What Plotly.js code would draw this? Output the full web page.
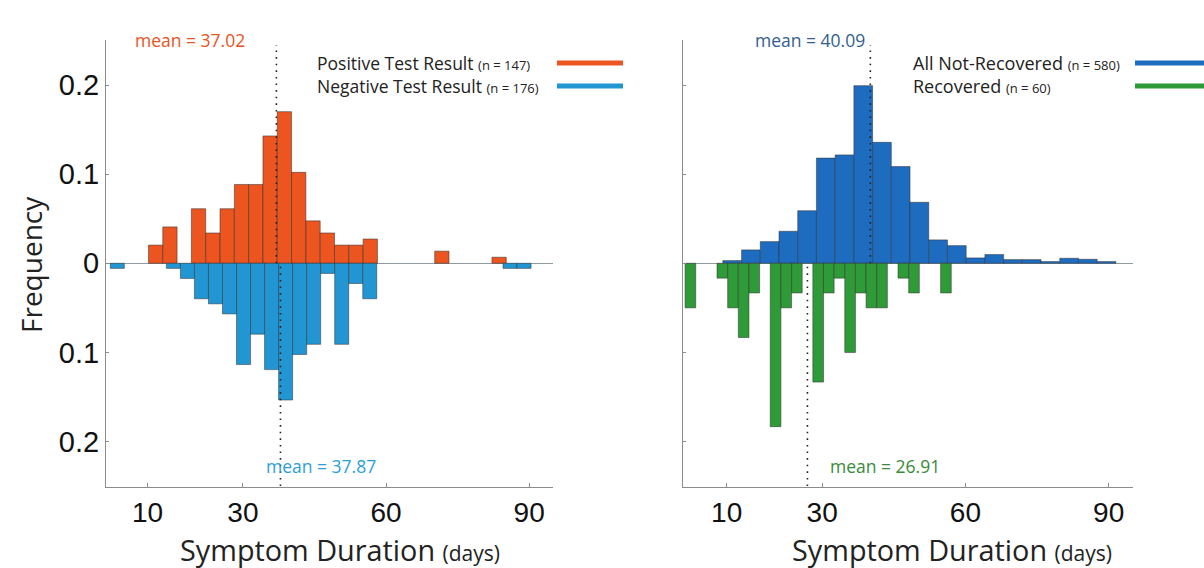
<!DOCTYPE html>
<html>
<head>
<meta charset="utf-8">
<script src="https://cdn.plot.ly/plotly-3.0.1.min.js"></script>
<style>html,body{margin:0;padding:0;background:#fff;}#chart{width:1204px;height:568px;}</style>
</head>
<body>
<div id="chart"></div>
<script>
// ---------- data (frequencies) ----------
// Left panel: positive test result (upwards, orange), bin width 3.0 days
const posCenters = [11.7, 14.7, 20.7, 23.7, 26.7, 29.7, 32.7, 35.7, 38.7, 41.7, 44.7, 47.7, 50.7, 53.7, 56.7, 71.7, 83.7];
const posFreq    = [0.0204, 0.0408, 0.0612, 0.034, 0.0612, 0.0884, 0.0884, 0.1429, 0.1701, 0.102, 0.0476, 0.034, 0.0204, 0.0204, 0.0272, 0.0136, 0.0068];
const posBinWidth = 3.0;
// Left panel: negative test result (downwards, light blue), bin width 2.94 days
const negCenters = [3.67, 15.43, 18.37, 21.31, 24.25, 27.19, 30.13, 33.07, 36.01, 38.95, 41.89, 44.83, 47.77, 50.71, 53.65, 56.59, 85.99, 88.93];
const negFreq    = [0.0057, 0.0057, 0.017, 0.0398, 0.0455, 0.0568, 0.1136, 0.0795, 0.1193, 0.1534, 0.1023, 0.0909, 0.0114, 0.0909, 0.0227, 0.0398, 0.0057, 0.0057];
const negBinWidth = 2.94;
// Right panel: all not-recovered (upwards, blue), bin width 3.92 days
const notRecCenters = [11.16, 15.08, 19.0, 22.92, 26.84, 30.76, 34.68, 38.6, 42.52, 46.44, 50.36, 54.28, 58.2, 62.12, 66.04, 69.96, 73.88, 77.8, 81.72, 85.64, 89.56];
const notRecFreq    = [0.003, 0.015, 0.0243, 0.0359, 0.059, 0.118, 0.1216, 0.1993, 0.1357, 0.1085, 0.0684, 0.0262, 0.0198, 0.006, 0.0098, 0.0041, 0.0041, 0.0019, 0.0056, 0.0045, 0.0019];
const notRecBinWidth = 3.92;
// Right panel: recovered (downwards, green), bin width 2.23 days
const recCenters = [2.40, 9.09, 11.32, 13.55, 15.78, 20.24, 22.47, 24.70, 29.16, 31.39, 33.62, 35.85, 38.08, 40.31, 42.54, 47.0, 49.23, 55.92];
const recFreq    = [0.05, 0.0167, 0.05, 0.0833, 0.0333, 0.1833, 0.05, 0.0333, 0.1333, 0.0333, 0.0167, 0.1, 0.0333, 0.05, 0.05, 0.0167, 0.0333, 0.0333];
const recBinWidth = 2.23;

const means = {pos: 37.02, neg: 37.87, notRec: 40.09, rec: 26.91};
const xTickVals = [10, 30, 60, 90];
const yTickVals = [-0.2, -0.1, 0, 0.1, 0.2];
const yTickText = ['0.2', '0.1', '0', '0.1', '0.2'];

// ---------- styling ----------
const C_POS = '#ec5420', C_NEG = '#2196d3', C_NR = '#1e6cc0', C_REC = '#2e9a38';
const EDGE = {color: 'rgba(50,50,50,0.75)', width: 0.7};
const H = 568, W = 1204;
const px = v => v / W, py = v => (H - v) / H;

function barTrace(xs, ys, w, color, sign, xa, ya, name) {
  return {type: 'bar', x: xs, y: ys.map(v => sign * v), width: xs.map(() => w),
          marker: {color: color, line: EDGE}, xaxis: xa, yaxis: ya, name: name,
          showlegend: false, hoverinfo: 'x+y'};
}

const traces = [
  barTrace(posCenters, posFreq, posBinWidth, C_POS, 1, 'x', 'y', 'Positive Test Result'),
  barTrace(negCenters, negFreq, negBinWidth, C_NEG, -1, 'x', 'y', 'Negative Test Result'),
  barTrace(notRecCenters, notRecFreq, notRecBinWidth, C_NR, 1, 'x2', 'y2', 'All Not-Recovered'),
  barTrace(recCenters, recFreq, recBinWidth, C_REC, -1, 'x2', 'y2', 'Recovered')
];

const tickFont = {family: 'Liberation Sans, Arial, sans-serif', size: 29, color: '#111'};
const xTickFont = {family: 'Liberation Sans, Arial, sans-serif', size: 28, color: '#111'};
const AX = '#8c8c8c';
const DOT = {color: '#222', width: 1.6, dash: '1.6px,5px'};

function xAxis(domain, range) {
  return {domain: domain, range: range, tickvals: xTickVals, ticks: 'inside', ticklen: 4, tickcolor: AX,
          showline: true, linecolor: AX, linewidth: 1, showgrid: false, zeroline: false,
          tickfont: xTickFont, fixedrange: true};
}
function yAxis(domain, anchor, showLabels) {
  return {domain: domain, range: [-0.251, 0.2505], anchor: anchor, tickvals: yTickVals, ticktext: yTickText,
          showticklabels: showLabels, ticks: 'inside', ticklen: 3, tickcolor: AX,
          showline: true, linecolor: AX, linewidth: 1, showgrid: false,
          zeroline: true, zerolinecolor: '#8f9ba0', zerolinewidth: 1,
          tickfont: tickFont, fixedrange: true};
}

const yDom = [py(487), py(40)];
const layout = {
  width: W, height: H, margin: {l: 0, r: 0, t: 0, b: 0},
  paper_bgcolor: '#fff', plot_bgcolor: 'rgba(0,0,0,0)',
  barmode: 'overlay', bargap: 0, showlegend: false,
  xaxis: Object.assign(xAxis([px(106), px(553)], [1.3, 95.0]), {anchor: 'y'}),
  yaxis: yAxis(yDom, 'x', true),
  xaxis2: Object.assign(xAxis([px(683), px(1133)], [0.85, 95.1]), {anchor: 'y2'}),
  yaxis2: yAxis(yDom, 'x2', false),
  shapes: [
    // mean lines
    {type: 'line', xref: 'x', yref: 'y', x0: means.pos, x1: means.pos, y0: 0, y1: 0.245, line: DOT},
    {type: 'line', xref: 'x', yref: 'y', x0: means.neg, x1: means.neg, y0: -0.25, y1: 0, line: DOT},
    {type: 'line', xref: 'x2', yref: 'y2', x0: means.notRec, x1: means.notRec, y0: 0, y1: 0.245, line: DOT},
    {type: 'line', xref: 'x2', yref: 'y2', x0: means.rec, x1: means.rec, y0: -0.25, y1: 0, line: DOT},
    // legend swatches
    {type: 'line', xref: 'paper', yref: 'paper', x0: px(557), x1: px(623), y0: py(63), y1: py(63), line: {color: C_POS, width: 5}},
    {type: 'line', xref: 'paper', yref: 'paper', x0: px(557), x1: px(623), y0: py(86), y1: py(86), line: {color: C_NEG, width: 5}},
    {type: 'line', xref: 'paper', yref: 'paper', x0: px(1135), x1: px(1204), y0: py(63), y1: py(63), line: {color: C_NR, width: 5}},
    {type: 'line', xref: 'paper', yref: 'paper', x0: px(1135), x1: px(1204), y0: py(86), y1: py(86), line: {color: C_REC, width: 5}}
  ],
  annotations: []
};

const annFont = (c, s) => ({family: 'Open Sans, Noto Sans, sans-serif', size: s, color: c});
function ann(text, x, y, color, size, xanchor, angle) {
  layout.annotations.push({text: text, xref: 'paper', yref: 'paper', x: px(x), y: py(y),
    xanchor: xanchor || 'center', yanchor: 'middle', showarrow: false, font: annFont(color, size),
    textangle: angle || 0});
}
// axis titles
const xTitle = 'Symptom Duration <span style="font-size:21px">(days)</span>';
ann(xTitle, 340, 549, '#222', 28.8);
ann(xTitle, 952, 549, '#222', 28.8);
ann('Frequency', 31, 265, '#222', 28, 'center', -90);
// mean labels
ann('mean = ' + means.pos.toFixed(2), 190, 40, '#e8541e', 17.5);
ann('mean = ' + means.neg.toFixed(2), 321, 466, '#2a9fd6', 17.5);
ann('mean = ' + means.notRec.toFixed(2), 810, 40, '#33608f', 17.5);
ann('mean = ' + means.rec.toFixed(2), 885, 466, '#3a8a3a', 17.5);
// legend texts
const small = t => '<span style="font-size:13px">' + t + '</span>';
ann('Positive Test Result ' + small('(n = 147)'), 315, 63, '#222', 17.5, 'left');
ann('Negative Test Result ' + small('(n = 176)'), 315, 86, '#222', 17.5, 'left');
ann('All Not-Recovered ' + small('(n = 580)'), 911, 63, '#222', 18, 'left');
ann('Recovered ' + small('(n = 60)'), 911, 86, '#222', 18, 'left');

Plotly.newPlot('chart', traces, layout, {displayModeBar: false, staticPlot: true});
</script>
</body>
</html>
